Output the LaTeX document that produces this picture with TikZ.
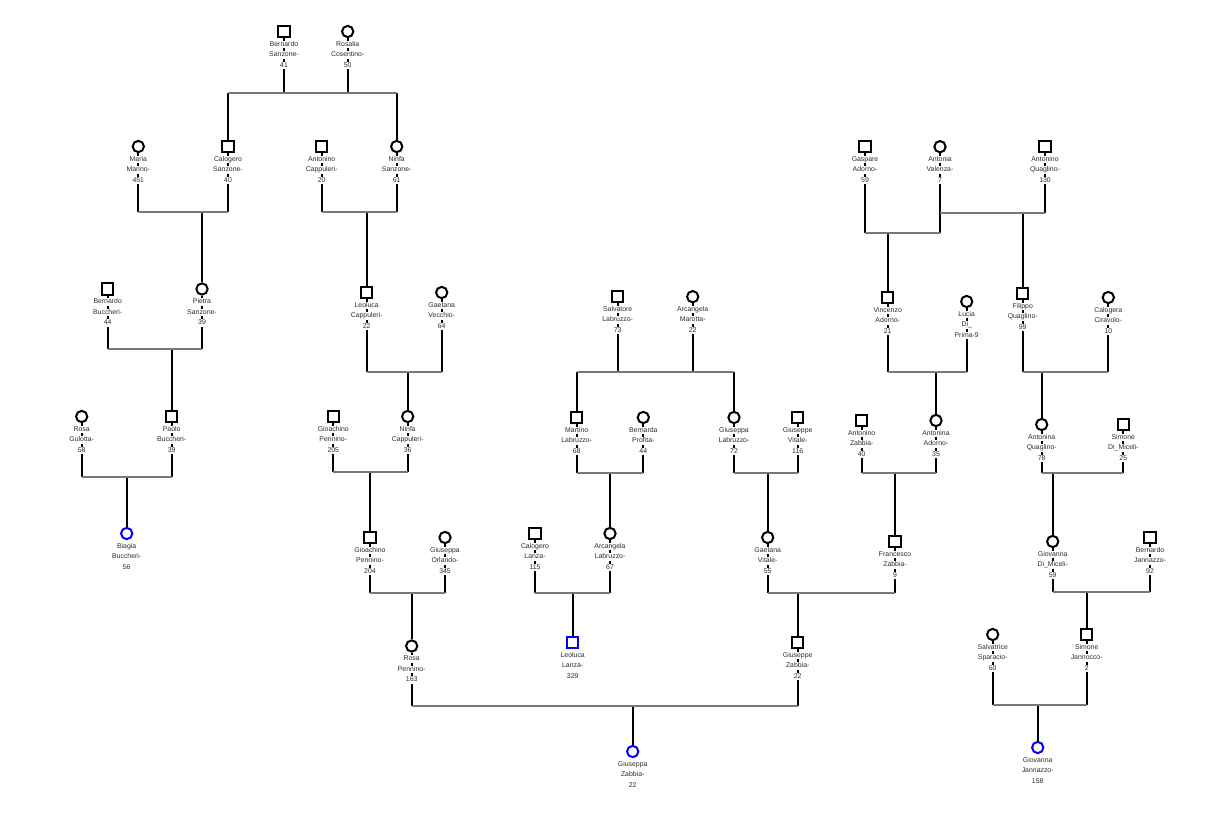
\documentclass[tikz,border=0pt]{standalone}
\usepackage{fontspec}
\setmainfont{Liberation Sans}
\pgfdeclarelayer{bg}
\pgfsetlayers{bg,main}
\definecolor{bargray}{RGB}{120,120,120}
\definecolor{txt}{RGB}{45,45,45}
\definecolor{kidblue}{RGB}{0,0,255}
\newcommand\wl[1]{{\setlength\fboxsep{0.3pt}\colorbox{white}{\rule[-1.8pt]{0pt}{6.8pt}#1}}}
\newcommand\psn[7]{%
  \node[#4] (#1) at (#2,#3) {};
  \node[lbl] (#1-t) at ([yshift=-9.0pt]#1.center) {\wl{#5}\\\wl{#6}\\\wl{#7}};
}
\newcommand\kinfam[6]{%
  \coordinate (#1) at (0,#2);
  \begin{pgfonlayer}{bg}
  \foreach \pa in {#3} {\draw[vl] (\pa) -- (\pa |- #1);}
  \foreach \ch in {#4} {\draw[vl] (\ch |- #1) -- (\ch);}
  \draw[bar] (#5 |- #1) -- (#6 |- #1);
  \end{pgfonlayer}
}
\tikzset{
  sq/.style={draw=black, fill=white, line width=2pt, minimum size=11.3pt, inner sep=0pt, rectangle},
  ci/.style={draw=black, fill=white, line width=2pt, minimum size=11.3pt, inner sep=0pt, circle},
  kid/.style={draw=kidblue},
  lbl/.style={anchor=north, align=center, inner sep=0pt, text=txt, font=\fontsize{6.9}{10.5}\selectfont},
  vl/.style={line width=2pt, draw=black},
  bar/.style={line width=2pt, draw=bargray},
}
\begin{document}
\begin{tikzpicture}[x=1pt,y=-1pt]
\useasboundingbox (0,0) rectangle (1223,819);
\begin{pgfonlayer}{bg}
\fill[white] (0,0) rectangle (1223,819);
\end{pgfonlayer}
% people
\psn{bsanz}{284}{31.5}{sq}{Bernardo}{Sanzone-}{41}
\psn{rcos}{347.7}{31.5}{ci}{Rosalia}{Cosentino-}{50}
\psn{mmar}{138.3}{146.5}{ci}{Maria}{Marino-}{451}
\psn{csanz}{228}{146.5}{sq}{Calogero}{Sanzone-}{40}
\psn{acap}{321.7}{146.5}{sq}{Antonino}{Cappuleri-}{20}
\psn{nsanz}{396.7}{146.5}{ci}{Ninfa}{Sanzone-}{61}
\psn{bbuc}{107.7}{289}{sq}{Bernardo}{Buccheri-}{44}
\psn{psanz}{202}{289}{ci}{Pietra}{Sanzone-}{39}
\psn{lcap}{366.7}{292.5}{sq}{Leoluca}{Cappuleri-}{22}
\psn{gvec}{441.7}{292.5}{ci}{Gaetana}{Vecchio-}{64}
\psn{rgul}{81.7}{416.5}{ci}{Rosa}{Gulotta-}{58}
\psn{pbuc}{171.7}{416.5}{sq}{Paolo}{Buccheri-}{39}
\psn{gpena}{333.3}{416.5}{sq}{Gioachino}{Pennino-}{205}
\psn{ncap}{407.7}{416.5}{ci}{Ninfa}{Cappuleri-}{36}
\psn{bbia}{126.7}{533.5}{ci,kid}{Biagia}{Buccheri-}{56}
\psn{gpenb}{370}{537.5}{sq}{Gioachino}{Pennino-}{204}
\psn{gorl}{445}{537.5}{ci}{Giuseppa}{Orlando-}{345}
\psn{rpen}{411.7}{646}{ci}{Rosa}{Pennino-}{163}
\psn{slab}{617.7}{296.7}{sq}{Salvatore}{Labruzzo-}{73}
\psn{amar}{692.7}{296.7}{ci}{Arcangela}{Marotta-}{22}
\psn{mlab}{576.7}{417.5}{sq}{Martino}{Labruzzo-}{68}
\psn{bpro}{643.3}{417.5}{ci}{Bernarda}{Profita-}{44}
\psn{glab}{734}{417.5}{ci}{Giuseppa}{Labruzzo-}{72}
\psn{gvit}{797.7}{417.5}{sq}{Giuseppe}{Vitale-}{116}
\psn{clan}{535}{533.5}{sq}{Calogero}{Lanza-}{115}
\psn{alab}{610}{533.5}{ci}{Arcangela}{Labruzzo-}{67}
\psn{gavit}{767.7}{537.5}{ci}{Gaetana}{Vitale-}{55}
\psn{llan}{572.7}{642.5}{sq,kid}{Leoluca}{Lanza-}{329}
\psn{gzab}{797.7}{642.5}{sq}{Giuseppe}{Zabbia-}{22}
\psn{gzabb}{632.7}{751.5}{ci,kid}{Giuseppa}{Zabbia-}{22}
\psn{gado}{865}{146.7}{sq}{Gaspare}{Adorno-}{59}
\psn{aval}{940}{146.7}{ci}{Antonia}{Valenza-}{7}
\psn{aqua}{1045}{146.7}{sq}{Antonino}{Quaglino-}{130}
\psn{vado}{887.7}{297.5}{sq}{Vincenzo}{Adorno-}{21}
\psn{ldi}{966.7}{301.5}{ci}{Lucia}{Di\_}{Prima-9}
\psn{fqua}{1022.7}{293.5}{sq}{Filippo}{Quaglino-}{99}
\psn{ccir}{1108.3}{297.5}{ci}{Calogera}{Ciravolo-}{10}
\psn{azab}{861.7}{420.5}{sq}{Antonino}{Zabbia-}{40}
\psn{aado}{936}{420.5}{ci}{Antonina}{Adorno-}{35}
\psn{aquab}{1041.7}{424.5}{ci}{Antonina}{Quaglino-}{78}
\psn{sdim}{1123.3}{424.5}{sq}{Simone}{Di\_Miceli-}{25}
\psn{fzab}{895}{541.5}{sq}{Francesco}{Zabbia-}{9}
\psn{gdim}{1052.7}{541.5}{ci}{Giovanna}{Di\_Miceli-}{59}
\psn{bjan}{1150}{537.5}{sq}{Bernardo}{Jannazzo-}{92}
\psn{sspa}{992.7}{634.5}{ci}{Salvatrice}{Sparacio-}{60}
\psn{sjan}{1086.7}{634.5}{sq}{Simone}{Jannocco-}{2}
\psn{gjan}{1037.7}{747.5}{ci,kid}{Giovanna}{Jannazzo-}{158}
% families
\kinfam{b1}{93.3}{bsanz,rcos}{csanz,nsanz}{csanz}{nsanz}
\kinfam{b2}{212}{mmar,csanz}{psanz}{mmar}{csanz}
\kinfam{b3}{212}{acap,nsanz}{lcap}{acap}{nsanz}
\kinfam{b4}{349}{bbuc,psanz}{pbuc}{bbuc}{psanz}
\kinfam{b5}{476.7}{rgul,pbuc}{bbia}{rgul}{pbuc}
\kinfam{b6}{371.7}{lcap,gvec}{ncap}{lcap}{gvec}
\kinfam{b7}{472.3}{gpena,ncap}{gpenb}{gpena}{ncap}
\kinfam{b8}{592.7}{gpenb,gorl}{rpen}{gpenb}{gorl}
\kinfam{b9}{371.7}{slab,amar}{mlab,glab}{mlab}{glab}
\kinfam{b10}{472.7}{mlab,bpro}{alab}{mlab}{bpro}
\kinfam{b11}{472.7}{glab,gvit}{gavit}{glab}{gvit}
\kinfam{b12}{592.7}{clan,alab}{llan}{clan}{alab}
\kinfam{b13}{592.5}{gavit,fzab}{gzab}{gavit}{fzab}
\kinfam{b14}{705.7}{rpen,gzab}{gzabb}{rpen}{gzab}
\kinfam{b15}{232.7}{gado,aval}{vado}{gado}{aval}
\kinfam{b16}{213.3}{aval,aqua}{fqua}{aval}{aqua}
\kinfam{b17}{372}{vado,ldi}{aado}{vado}{ldi}
\kinfam{b18}{372}{fqua,ccir}{aquab}{fqua}{ccir}
\kinfam{b19}{472.7}{azab,aado}{fzab}{azab}{aado}
\kinfam{b20}{472.7}{aquab,sdim}{gdim}{aquab}{sdim}
\kinfam{b21}{592.3}{gdim,bjan}{sjan}{gdim}{bjan}
\kinfam{b22}{705.3}{sspa,sjan}{gjan}{sspa}{sjan}
\end{tikzpicture}
\end{document}
